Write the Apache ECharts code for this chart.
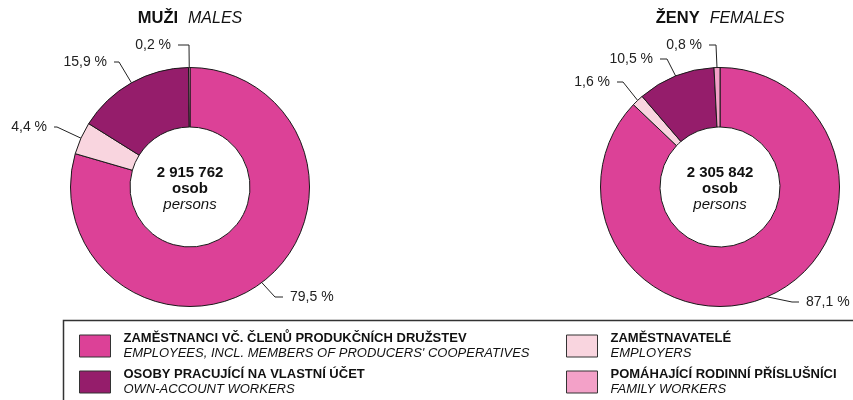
<!DOCTYPE html>
<html><head><meta charset="utf-8">
<script src="https://cdn.jsdelivr.net/npm/echarts@6/dist/echarts.min.js"></script>
<style>html,body{margin:0;padding:0;background:#fff}#c{width:853px;height:400px}</style>
</head><body><div id="c"></div>
<script>
const categoriesCz = ['ZAMĚSTNANCI VČ. ČLENŮ PRODUKČNÍCH DRUŽSTEV', 'ZAMĚSTNAVATELÉ', 'OSOBY PRACUJÍCÍ NA VLASTNÍ ÚČET', 'POMÁHAJÍCÍ RODINNÍ PŘÍSLUŠNÍCI'];
const categoriesEn = ["EMPLOYEES, INCL. MEMBERS OF PRODUCERS' COOPERATIVES", 'EMPLOYERS', 'OWN-ACCOUNT WORKERS', 'FAMILY WORKERS'];
const malesShare = [79.5, 4.4, 15.9, 0.2];
const femalesShare = [87.1, 1.6, 10.5, 0.8];
const chartTitlesCz = ['MUŽI', 'ŽENY'];
const chartTitlesEn = ['MALES', 'FEMALES'];
const totals = ['2 915 762', '2 305 842'];
const unitCz = 'osob';
const unitEn = 'persons';

const colors = ['#DC4197', '#F9D5DF', '#951D6B', '#F3A1C8'];
const FONT = "'Liberation Sans', Arial, sans-serif";
const centers = [[190, 187], [720, 187]];
const labelPos = [
  [{x: 283, y: 297, align: 'left', l2: 8}, {x: 54, y: 127, align: 'right', l2: 3}, {x: 114, y: 62, align: 'right', l2: 5}, {x: 178, y: 45, align: 'right', l2: 11}],
  [{x: 799, y: 302, align: 'left', l2: 7}, {x: 617, y: 82, align: 'right', l2: 6}, {x: 660, y: 59, align: 'right', l2: 7}, {x: 709, y: 45, align: 'right', l2: 7}]
];

function pieSeries(idx, values) {
  return {
    type: 'pie',
    center: centers[idx],
    radius: [60, 119.5],
    startAngle: 90,
    clockwise: true,
    avoidLabelOverlap: false,
    animation: false,
    emphasis: {disabled: true},
    itemStyle: {borderColor: '#1a1a1a', borderWidth: 1},
    label: {
      show: true, position: 'outside', color: '#222', fontSize: 14, fontFamily: FONT,
      formatter: p => {
        const t = '{t|' + String(p.value).replace('.', ',') + ' %}';
        return labelPos[idx][p.dataIndex].align === 'left' ? '{s| }' + t : t + '{s| }';
      },
      rich: {
        t: {color: '#222', fontSize: 14, fontFamily: FONT},
        s: {width: 7, fontSize: 14}
      }
    },
    labelLine: {show: true, length: 10, length2: 8, lineStyle: {color: '#222', width: 1}},
    labelLayout: p => {
      const lp = labelPos[idx][p.dataIndex];
      return {x: lp.x, y: lp.y, align: lp.align, verticalAlign: 'middle'};
    },
    data: values.map((v, i) => ({
      name: categoriesCz[i], value: v,
      itemStyle: {color: colors[i]},
      labelLine: {length2: labelPos[idx][i].l2}
    }))
  };
}

const richTitle = {
  b: {fontWeight: 'bold', fontSize: 16.5, fontFamily: FONT, fill: '#111'},
  i: {fontStyle: 'italic', fontSize: 16, fontFamily: FONT, fill: '#111'}
};

const graphics = [
  {type: 'rect', silent: true, shape: {x: 63.5, y: 320.5, width: 900, height: 200}, style: {fill: 'none', stroke: '#333', lineWidth: 1.5}}
];
[0, 1].forEach(k => {
  graphics.push({type: 'text', silent: true, x: centers[k][0], y: 18.5,
    style: {text: '{b|' + chartTitlesCz[k] + '}   {i|' + chartTitlesEn[k] + '}', rich: richTitle, align: 'center', verticalAlign: 'middle'}});
  graphics.push({type: 'text', silent: true, x: centers[k][0], y: 173,
    style: {text: totals[k], fontWeight: 'bold', fontSize: 15, fontFamily: FONT, fill: '#111', align: 'center', verticalAlign: 'middle'}});
  graphics.push({type: 'text', silent: true, x: centers[k][0], y: 189,
    style: {text: unitCz, fontWeight: 'bold', fontSize: 15, fontFamily: FONT, fill: '#111', align: 'center', verticalAlign: 'middle'}});
  graphics.push({type: 'text', silent: true, x: centers[k][0], y: 205,
    style: {text: unitEn, fontStyle: 'italic', fontSize: 15, fontFamily: FONT, fill: '#111', align: 'center', verticalAlign: 'middle'}});
});

function legendCfg(left, names) {
  return {
    left: left, top: 332, orient: 'vertical', padding: 0, itemGap: 8,
    itemWidth: 31, itemHeight: 22, icon: 'rect', selectedMode: false,
    itemStyle: {borderColor: '#333', borderWidth: 1},
    data: names,
    formatter: name => '{b|' + name + '}\n{i|' + categoriesEn[categoriesCz.indexOf(name)] + '}',
    textStyle: {
      rich: {
        b: {fontWeight: 'bold', fontSize: 13, lineHeight: 15, color: '#111', fontFamily: FONT, padding: [0, 0, 0, 8]},
        i: {fontStyle: 'italic', fontSize: 13, lineHeight: 15, color: '#111', fontFamily: FONT, padding: [0, 0, 0, 8]}
      }
    }
  };
}

const chart = echarts.init(document.getElementById('c'), null, {renderer: 'canvas'});
chart.setOption({
  animation: false,
  backgroundColor: '#fff',
  legend: [legendCfg(79, [categoriesCz[0], categoriesCz[2]]), legendCfg(566, [categoriesCz[1], categoriesCz[3]])],
  graphic: graphics,
  series: [pieSeries(0, malesShare), pieSeries(1, femalesShare)]
});
</script>
</body></html>
